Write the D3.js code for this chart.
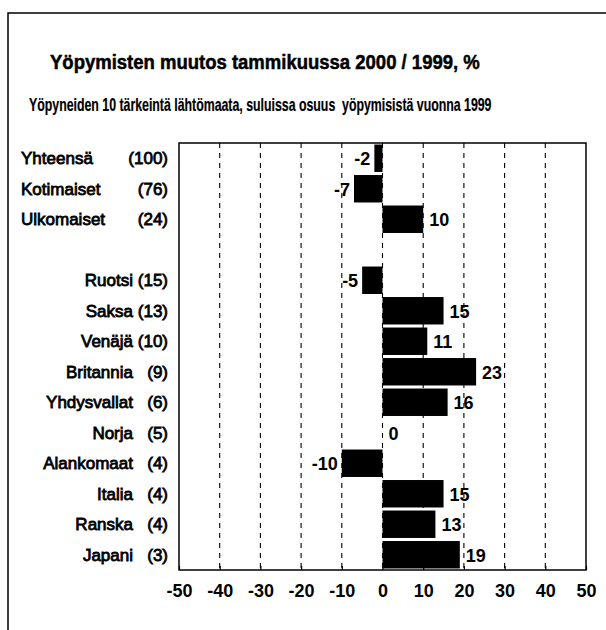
<!DOCTYPE html>
<html>
<head>
<meta charset="utf-8">
<script src="https://cdn.jsdelivr.net/npm/d3@7"></script>
<style>
  body { margin: 0; background: #fff; }
  text { font-family: "Liberation Sans", Arial, sans-serif; fill: #000; }
</style>
</head>
<body>
<svg width="606" height="630"></svg>
<script>
var names = ["Yhteensä", "Kotimaiset", "Ulkomaiset", "Ruotsi", "Saksa", "Venäjä", "Britannia",
             "Yhdysvallat", "Norja", "Alankomaat", "Italia", "Ranska", "Japani"]
var shares = [100, 76, 24, 15, 13, 10, 9, 6, 5, 4, 4, 4, 3]
var values = [-2, -7, 10, -5, 15, 11, 23, 16, 0, -10, 15, 13, 19]
var tickValues = [-50, -40, -30, -20, -10, 0, 10, 20, 30, 40, 50]

var title = "Yöpymisten muutos tammikuussa 2000 / 1999, %"
var subtitle = "Yöpyneiden 10 tärkeintä lähtömaata, suluissa osuus  yöpymisistä vuonna 1999"

var svg = d3.select("svg");

var plot_left = 179;
var plot_right = 586;
var plot_top = 143;
var plot_bottom = 570;

// outer frame (runs off the right and bottom of the picture)
svg.append("path")
    .attr("d", "M8,640 L8,13 L620,13")
    .attr("fill", "none")
    .attr("stroke", "#000")
    .attr("stroke-width", 1.5);

// squeeze a text horizontally so it spans the given width
function fitText(x, y, width, size, stroke, str) {
    var g = svg.append("g");
    var t = g.append("text")
        .attr("font-size", size).attr("font-weight", "bold")
        .attr("stroke", "#000").attr("stroke-width", stroke)
        .style("white-space", "pre")
        .text(str);
    var w = t.node().getComputedTextLength();
    g.attr("transform", "translate(" + x + "," + y + ") scale(" + (width / w) + ",1)");
}

fitText(50, 69, 430, 21, 0.5, title);
fitText(29, 111, 463, 17.5, 0.2, subtitle);

var xScale = d3.scaleLinear().domain([-50, 50]).range([plot_left, plot_right]);

var slots = names.slice(0, 3).concat(["_gap"]).concat(names.slice(3));
var yScale = d3.scaleBand().domain(slots).range([plot_top, plot_bottom])
    .paddingInner(0.1).paddingOuter(0.05);

// dashed grid
svg.append("g")
    .selectAll("line")
    .data(tickValues.filter(d => d > -50 && d < 50))
    .join("line")
    .attr("x1", d => xScale(d)).attr("x2", d => xScale(d))
    .attr("y1", plot_top).attr("y2", plot_bottom)
    .attr("stroke", "#000")
    .attr("stroke-width", 1.1)
    .attr("stroke-dasharray", "5,5");

// bars
var rows = names.map((n, i) => ({name: n, share: shares[i], value: values[i], index: i}));

svg.append("g")
    .selectAll("rect")
    .data(rows)
    .join("rect")
    .attr("x", d => xScale(Math.min(0, d.value)))
    .attr("width", d => Math.abs(xScale(d.value) - xScale(0)))
    .attr("y", d => yScale(d.name))
    .attr("height", yScale.bandwidth())
    .attr("fill", "#000");

// value labels
svg.append("g")
    .selectAll("text")
    .data(rows)
    .join("text")
    .attr("x", d => d.value < 0 ? xScale(d.value) - 4 : xScale(d.value) + 6)
    .attr("y", d => yScale(d.name) + yScale.bandwidth() / 2 + 7)
    .attr("text-anchor", d => d.value < 0 ? "end" : "start")
    .attr("font-size", 18).attr("font-weight", "bold")
    .text(d => d.value);

// category labels
var labels = svg.append("g");
labels.selectAll("text.name")
    .data(rows)
    .join("text")
    .attr("class", "name")
    .attr("x", d => d.index < 3 ? 21 : 133)
    .attr("y", d => yScale(d.name) + yScale.bandwidth() / 2 + 6)
    .attr("text-anchor", d => d.index < 3 ? "start" : "end")
    .attr("font-size", 17)
    .attr("stroke", "#000").attr("stroke-width", 0.8)
    .text(d => d.name);

labels.selectAll("text.share")
    .data(rows)
    .join("text")
    .attr("class", "share")
    .attr("x", 168)
    .attr("y", d => yScale(d.name) + yScale.bandwidth() / 2 + 6)
    .attr("text-anchor", "end")
    .attr("font-size", 17)
    .attr("stroke", "#000").attr("stroke-width", 0.8)
    .text(d => "(" + d.share + ")");

// plot frame
svg.append("rect")
    .attr("x", plot_left).attr("y", plot_top)
    .attr("width", plot_right - plot_left).attr("height", plot_bottom - plot_top)
    .attr("fill", "none")
    .attr("stroke", "#000")
    .attr("stroke-width", 1.5);

// x axis
var xAxis = d3.axisBottom(xScale)
    .tickValues(tickValues)
    .tickSize(-4)
    .tickPadding(14)
    .tickFormat(d => d);

var axis = svg.append("g")
    .attr("transform", "translate(0," + plot_bottom + ")")
    .call(xAxis);
axis.select(".domain").remove();
axis.selectAll("line").attr("stroke-width", 1.2);
axis.selectAll("text")
    .attr("font-family", "Liberation Sans, Arial, sans-serif")
    .attr("font-size", 18)
    .attr("font-weight", "bold")
    .attr("dy", "0.71em");
</script>
</body>
</html>
